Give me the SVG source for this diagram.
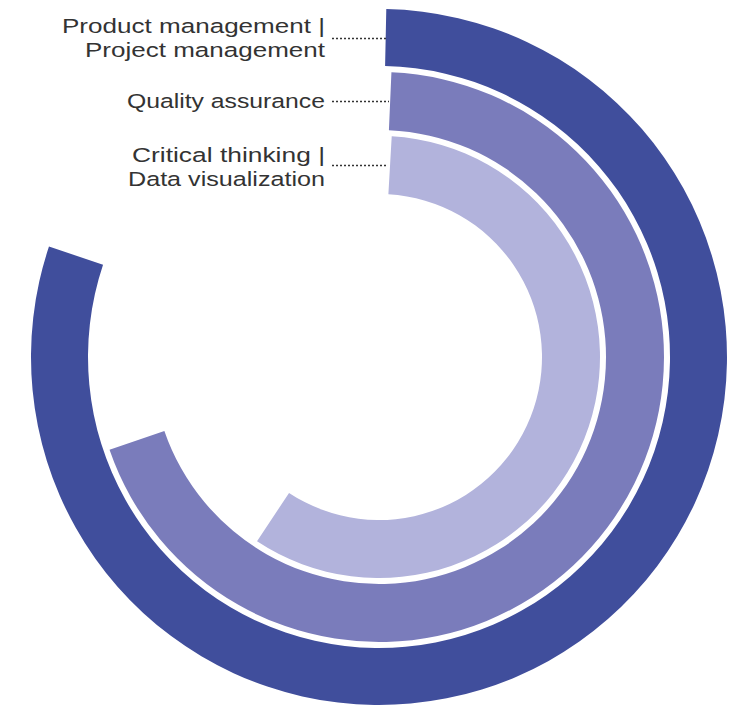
<svg xmlns="http://www.w3.org/2000/svg" width="745" height="707" viewBox="0 0 745 707">
<style>
.lbl{font-family:"Liberation Sans","Open Sans",sans-serif;font-size:20.5px;fill:#333333;text-anchor:end}
.lead{stroke:#333333;stroke-width:1.6;stroke-dasharray:2 2;fill:none}
</style>
<rect width="745" height="707" fill="#ffffff"/>
<g id="ring-product">
<path d="M386.29 9.08 A348 348 0 1 1 48.98 246.58 L103.04 264.67 A291 291 0 1 0 385.09 66.06 Z" fill="#404e9c"/>
</g>
<g id="ring-quality">
<path d="M391.43 72.27 A285 285 0 1 1 109.53 449.79 L164.37 430.90 A227 227 0 1 0 388.90 130.22 Z" fill="#7a7cbb"/>
</g>
<g id="ring-critical">
<path d="M391.72 136.37 A221 221 0 1 1 257.02 541.29 L289.03 492.92 A163 163 0 1 0 388.38 194.27 Z" fill="#b2b3dc"/>
</g>
<g id="connectors">
<line class="lead" x1="332" y1="38.5" x2="386" y2="38.5"/>
<line class="lead" x1="332" y1="101.5" x2="389" y2="101.5"/>
<line class="lead" x1="332" y1="165.5" x2="388" y2="165.5"/>
</g>
<g id="label-product">
<text class="lbl" x="325" y="33" textLength="263" lengthAdjust="spacingAndGlyphs">Product management |</text>
<text class="lbl" x="325" y="57" textLength="240" lengthAdjust="spacingAndGlyphs">Project management</text>
</g>
<g id="label-quality">
<text class="lbl" x="325" y="108" textLength="198" lengthAdjust="spacingAndGlyphs">Quality assurance</text>
</g>
<g id="label-critical">
<text class="lbl" x="325" y="162" textLength="193" lengthAdjust="spacingAndGlyphs">Critical thinking |</text>
<text class="lbl" x="325" y="186" textLength="197" lengthAdjust="spacingAndGlyphs">Data visualization</text>
</g>
</svg>
